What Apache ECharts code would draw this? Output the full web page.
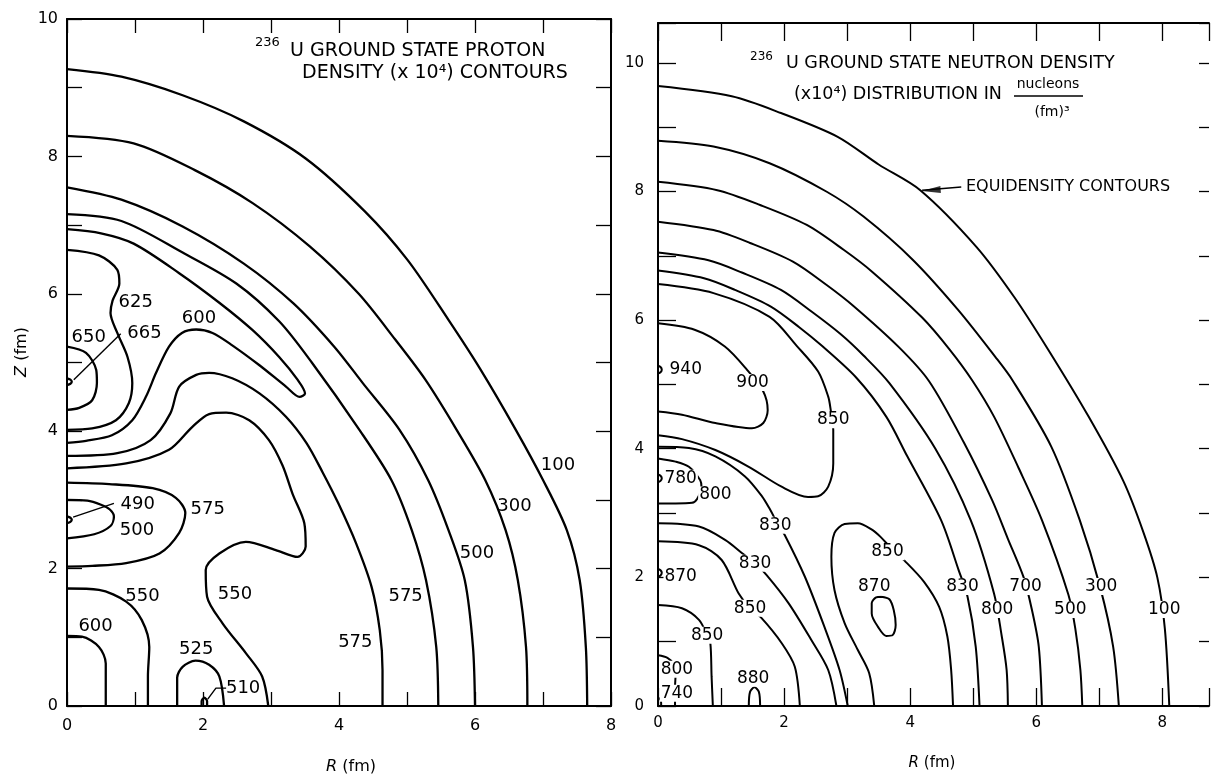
<!DOCTYPE html>
<html><head><meta charset="utf-8">
<script src="https://cdn.jsdelivr.net/npm/echarts@6/dist/echarts.min.js"></script>
<style>html,body{margin:0;padding:0;background:#fff;}#c{width:1212px;height:776px;}</style>
</head><body><div id="c"></div>
<script>
// ---------- LEFT PANEL: proton density contours, points [R, Z] in fm ----------
const pC100 = [[0,9.27],[0.8,9.16],[1.7,8.89],[2.6,8.51],[3.51,7.97],[4.38,7.2],[5.01,6.49],[5.61,5.62],[6.08,4.9],[6.6,4.02],[7.0,3.29],[7.35,2.56],[7.54,1.83],[7.63,0.86],[7.65,0]];
const pC300 = [[0,8.30],[0.98,8.19],[1.88,7.8],[2.73,7.32],[3.57,6.69],[4.29,6.0],[4.83,5.33],[5.27,4.75],[5.73,4.02],[6.15,3.29],[6.45,2.56],[6.63,1.83],[6.75,0.86],[6.77,0]];
const pC500 = [[0,7.55],[0.8,7.37],[1.7,6.98],[2.6,6.44],[3.33,5.86],[3.93,5.23],[4.35,4.7],[4.89,4.02],[5.31,3.29],[5.61,2.56],[5.85,1.83],[5.97,0.86],[6.0,0]];
const pC575a = [[0,7.16],[0.8,7.06],[1.7,6.6],[2.49,6.15],[3.12,5.6],[3.6,5.0],[4.3,4.02],[4.77,3.29],[5.07,2.56],[5.28,1.83],[5.43,0.86],[5.46,0]];
const pC600 = [[0,6.94],[0.5,6.88],[0.98,6.73],[1.65,6.3],[2.24,5.87],[2.73,5.47],[3.12,5.08],[3.39,4.75],[3.5,4.55],[3.42,4.5],[3.22,4.65],[2.83,4.96],[2.43,5.25],[2.14,5.43],[1.9,5.48],[1.69,5.43],[1.5,5.23],[1.31,4.85],[1.16,4.5],[0.96,4.16],[0.66,3.94],[0.28,3.86],[0,3.83]];
const pC575b = [[0,3.64],[0.74,3.68],[1.23,3.87],[1.52,4.26],[1.65,4.65],[1.9,4.82],[2.09,4.85],[2.43,4.77],[2.83,4.55],[3.22,4.21],[3.52,3.83],[3.76,3.4],[3.99,2.95],[4.25,2.37],[4.48,1.73],[4.6,1.1],[4.64,0.52],[4.64,0]];
const pC550s = [[0,3.46],[0.87,3.53],[1.5,3.73],[1.84,4.06],[2.09,4.25],[2.34,4.27],[2.68,4.16],[2.97,3.87],[3.17,3.5],[3.32,3.08],[3.49,2.66],[3.51,2.32],[3.39,2.17],[3.07,2.27],[2.63,2.39],[2.24,2.22],[2.04,1.98],[2.06,1.59],[2.29,1.2],[2.63,0.77],[2.87,0.43],[2.96,0]];
const pLoop575 = [[0,3.25],[0.62,3.23],[1.26,3.17],[1.6,3.03],[1.74,2.81],[1.65,2.52],[1.36,2.22],[0.87,2.08],[0.37,2.04],[0,2.03]];
const pC500in = [[0,3.0],[0.3,2.99],[0.5,2.93],[0.63,2.86],[0.69,2.76],[0.64,2.62],[0.4,2.5],[0,2.44]];
const pC490 = [[0,2.76],[0.05,2.74],[0.07,2.71],[0.05,2.68],[0,2.66]];
const pLead490 = [[0.09,2.75],[0.69,2.95]];
const pC550bl = [[0,1.71],[0.47,1.69],[0.87,1.52],[1.1,1.25],[1.21,0.86],[1.19,0.43],[1.19,0]];
const pC600bl = [[0,1.02],[0.22,1.01],[0.47,0.86],[0.57,0.62],[0.57,0.33],[0.57,0]];
const pC525 = [[1.62,0],[1.62,0.41],[1.7,0.57],[1.89,0.66],[2.09,0.6],[2.24,0.43],[2.31,0]];
const pC510 = [[1.98,0],[1.98,0.07],[2.02,0.12],[2.06,0.07],[2.06,0]];
const pLead510 = [[2.07,0.1],[2.19,0.26],[2.34,0.26]];
const pC650 = [[0,5.23],[0.28,5.14],[0.43,4.89],[0.44,4.7],[0.37,4.45],[0.18,4.34],[0,4.31]];
const pC625 = [[0,6.64],[0.47,6.56],[0.74,6.35],[0.77,6.15],[0.67,5.9],[0.64,5.72],[0.74,5.43],[0.89,5.08],[0.96,4.7],[0.91,4.41],[0.72,4.16],[0.37,4.04],[0,4.02]];
const pC665 = [[0,4.77],[0.05,4.75],[0.07,4.72],[0.05,4.69],[0,4.67]];
const pLead665 = [[0.1,4.75],[0.79,5.42]];
const pLabText = ['625','665','650','600','490','500','575','550','550','600','525','510','575','575','500','300','100'];
const pLabR = [1.01,1.14,0.32,1.94,1.04,1.03,2.07,1.11,2.47,0.42,1.9,2.59,4.24,4.98,6.03,6.58,7.22];
const pLabZ = [5.88,5.42,5.37,5.65,2.94,2.56,2.87,1.59,1.63,1.16,0.82,0.26,0.92,1.59,2.22,2.9,3.51];

// ---------- RIGHT PANEL: neutron density contours ----------
const n100 = [[0,9.64],[1.17,9.48],[1.95,9.22],[2.85,8.85],[3.5,8.42],[4.16,8.02],[5.05,7.14],[5.65,6.36],[6.19,5.54],[6.83,4.5],[7.38,3.5],[7.7,2.7],[7.92,2.0],[8.04,1.2],[8.11,0]];
const n300 = [[0,8.79],[0.88,8.70],[1.77,8.44],[2.67,8.0],[3.26,7.61],[4.04,6.94],[4.76,6.16],[5.35,5.43],[5.62,5.07],[6.24,4.03],[6.69,2.89],[7.01,1.86],[7.22,0.92],[7.31,0]];
const n500 = [[0,8.15],[0.94,8.02],[1.62,7.79],[2.36,7.48],[2.95,7.09],[3.4,6.75],[4.19,6.04],[4.62,5.55],[4.98,5.07],[5.33,4.5],[5.72,3.7],[6.09,2.89],[6.51,1.73],[6.62,1.2],[6.7,0.56],[6.73,0]];
const n700 = [[0,7.53],[0.88,7.40],[1.46,7.2],[2.14,6.91],[2.67,6.55],[3.1,6.22],[3.82,5.58],[4.3,5.05],[4.85,4.1],[5.3,3.2],[5.55,2.6],[5.8,2.0],[5.93,1.5],[6.04,0.92],[6.09,0]];
const n800 = [[0,7.05],[0.80,6.93],[1.33,6.74],[1.95,6.47],[2.44,6.13],[2.9,5.78],[3.26,5.45],[3.67,5.02],[4.4,4.0],[4.96,2.89],[5.33,1.75],[5.45,1.1],[5.53,0.56],[5.55,0]];
const n830 = [[0,6.77],[0.73,6.65],[1.22,6.47],[1.79,6.21],[2.24,5.89],[2.6,5.6],[3.15,5.1],[3.62,4.5],[3.95,3.89],[4.49,2.89],[4.77,2.11],[4.91,1.70],[5.04,0.92],[5.1,0]];
const n850top = [[0,6.56],[0.88,6.42],[1.77,6.05],[2.2,5.6],[2.54,5.2],[2.7,4.81],[2.74,4.6],[2.78,4.29],[2.78,3.77],[2.7,3.41],[2.54,3.26],[2.38,3.25],[1.96,3.41],[1.44,3.72],[0.91,3.98],[0.38,4.15],[0,4.21]];
const n900 = [[0,5.95],[0.58,5.85],[1.06,5.59],[1.41,5.23],[1.67,4.89],[1.74,4.6],[1.67,4.4],[1.49,4.32],[0.91,4.4],[0.38,4.53],[0,4.58]];
const n830up = [[0,4.03],[0.49,4.01],[0.91,3.88],[1.38,3.57],[1.65,3.26],[1.78,3.05],[1.9,2.83],[2.01,2.66],[2.33,2.01],[2.64,1.23],[2.88,0.56],[3.01,0]];
const n800loop = [[0,3.85],[0.28,3.80],[0.49,3.72],[0.67,3.51],[0.69,3.40],[0.62,3.22],[0.54,3.16],[0.28,3.15],[0,3.15]];
const n830low = [[0,2.84],[0.65,2.79],[1.07,2.58],[1.33,2.38],[1.54,2.22],[1.72,2.04],[2.07,1.6],[2.43,1.03],[2.7,0.56],[2.83,0]];
const n850a = [[0,2.56],[0.65,2.5],[1.01,2.27],[1.28,1.75],[1.46,1.52],[1.64,1.37],[1.96,0.98],[2.17,0.61],[2.25,0]];
const n850b = [[0,1.57],[0.38,1.52],[0.65,1.34],[0.78,1.1],[0.83,0.98],[0.85,0.46],[0.87,0]];
const n800b = [[0,0.79],[0.15,0.75],[0.25,0.65],[0.28,0.5],[0.27,0.3],[0.27,0]];
const n880 = [[1.44,0],[1.46,0.22],[1.53,0.29],[1.6,0.22],[1.62,0]];
const n850hill = [[3.43,0],[3.35,0.51],[3.17,0.87],[2.96,1.29],[2.8,1.8],[2.75,2.32],[2.8,2.69],[2.96,2.83],[3.17,2.84],[3.38,2.75],[3.53,2.63],[3.7,2.45],[3.91,2.26],[4.22,1.93],[4.46,1.54],[4.59,1.08],[4.65,0.56],[4.68,0]];
const n870isl = [[3.54,1.70],[3.67,1.66],[3.74,1.49],[3.77,1.26],[3.72,1.10],[3.62,1.09],[3.49,1.23],[3.39,1.44],[3.39,1.60],[3.46,1.69],[3.54,1.70]];
const n940 = [[0,5.29],[0.04,5.27],[0.06,5.23],[0.04,5.19],[0,5.17]];
const n780 = [[0,3.6],[0.04,3.58],[0.06,3.54],[0.04,3.5],[0,3.48]];
const n870 = [[0,2.13],[0.04,2.11],[0.06,2.07],[0.04,2.03],[0,2.01]];
const n740 = [[0,0.13],[0.04,0.1],[0.05,0.04],[0.05,0]];
const nArrow = [[4.81,8.07],[4.19,8.02]];
const nLabText = ['940','900','850','780','800','830','830','850','870','850','870','850','800','740','880','830','800','700','500','300','100'];
const nLabR = [0.44,1.50,2.78,0.36,0.91,1.86,1.54,3.64,0.36,1.46,3.43,0.78,0.30,0.30,1.51,4.83,5.38,5.83,6.54,7.03,8.03];
const nLabZ = [5.23,5.03,4.45,3.54,3.28,2.81,2.22,2.40,2.01,1.52,1.85,1.10,0.57,0.20,0.43,1.86,1.50,1.86,1.50,1.86,1.50];

// tick labels
const xTickLabels = ['0','2','4','6','8'];
const yTickLabels = ['0','2','4','6','8','10'];

const FONT = '"DejaVu Sans", "Liberation Sans", sans-serif';
const INK = '#000';

function fmt(list) {
  return function (v) {
    const r = Math.round(v);
    if (Math.abs(v - r) > 1e-6) return '';
    return list.indexOf(String(r)) >= 0 ? String(r) : '';
  };
}
function xAx(g, max, pos, tickLen, fs, margin) {
  return {type:'value', gridIndex:g, min:0, max:max, interval:1, position:pos,
    axisLine:{show:true, onZero:false, lineStyle:{color:'#000', width:2}},
    axisTick:{show:true, inside:true, length:tickLen, lineStyle:{color:'#000', width:1.3}},
    axisLabel:{show:pos==='bottom', margin:margin, fontSize:fs, color:INK, fontFamily:FONT, formatter:fmt(xTickLabels)},
    splitLine:{show:false}};
}
function yAx(g, max, pos, tickLen, fs, margin, showLine) {
  return {type:'value', gridIndex:g, min:0, max:max, interval:1, position:pos,
    axisLine:{show:showLine !== false, onZero:false, lineStyle:{color:'#000', width:2}},
    axisTick:{show:true, inside:true, length:tickLen, lineStyle:{color:'#000', width:1.3}},
    axisLabel:{show:pos==='left', margin:margin, fontSize:fs, color:INK, fontFamily:FONT, formatter:fmt(yTickLabels)},
    splitLine:{show:false}};
}
function line(data, xi, yi, w, smooth) {
  return {type:'line', xAxisIndex:xi, yAxisIndex:yi, data:data, smooth:smooth === undefined ? 0.3 : smooth,
    showSymbol:false, symbol:'none', silent:true, lineStyle:{color:'#000', width:w}, z:3};
}
function labels(text, rs, zs, xi, yi, fs, bg) {
  return {type:'scatter', xAxisIndex:xi, yAxisIndex:yi, symbolSize:0, silent:true, z:6,
    itemStyle:{color:'#000'},
    data:text.map((t,i)=>({name:t, value:[rs[i], zs[i]]})),
    label:{show:true, position:'inside', formatter:'{b}', fontSize:fs, fontFamily:FONT, color:'#000',
      textBorderWidth:0, opacity:1,
      backgroundColor: bg ? '#fff' : 'transparent', padding: bg ? [0,1] : 0}};
}

const LW = 2.3, RW = 2.0;
const leftLines = [pC100,pC300,pC500,pC575a,pC600,pC575b,pC550s,pLoop575,pC500in,pC490,pC550bl,pC600bl,pC525,pC510,pC650,pC625,pC665];
const leftLeaders = [pLead490,pLead510,pLead665];
const rightLines = [n100,n300,n500,n700,n800,n830,n850top,n900,n830up,n800loop,n830low,n850a,n850b,n800b,n880,n850hill,n870isl,n940,n780,n870,n740];

const series = [];
leftLines.forEach(d => series.push(line(d, 0, 0, LW)));
leftLeaders.forEach(d => series.push(line(d, 0, 0, 1.4, false)));
rightLines.forEach(d => series.push(line(d, 2, 2, RW)));
series.push(line(nArrow, 2, 2, 1.5, false));
series.push({type:'scatter', xAxisIndex:2, yAxisIndex:2, silent:true, z:7,
  data:[nArrow[1]], symbol:'path://M0,5 L22,0 L22,10 Z', symbolSize:[19,7], symbolKeepAspect:false, symbolOffset:[9,0], symbolRotate:4,
  itemStyle:{color:'#000'}});
series.push(labels(pLabText, pLabR, pLabZ, 0, 0, 18, false));
series.push(labels(nLabText, nLabR, nLabZ, 2, 2, 17, true));

function txt(x, y, text, size, align) {
  return {type:'text', x:x, y:y, silent:true, z:10,
    style:{text:text, fontSize:size, fontFamily:FONT, fill:INK, textAlign:align||'left', textVerticalAlign:'middle'}};
}

const option = {
  animation:false,
  backgroundColor:'#fff',
  grid:[
    {left:67, top:19, width:544, height:687, containLabel:false},
    {left:658, top:23, width:554, height:683, containLabel:false}
  ],
  xAxis:[xAx(0,8,'bottom',14,16,12), xAx(0,8,'top',14,16,8), xAx(1,8.74,'bottom',18,15,10), xAx(1,8.74,'top',18,15,8)],
  yAxis:[yAx(0,10,'left',15,16,9), yAx(0,10,'right',15,16,8), yAx(1,10.62,'left',18,15,14), yAx(1,10.62,'right',10,15,8,false)],
  series:series,
  graphic:[
    txt(255,43,'236',13,'left'),
    txt(290,51,'U GROUND STATE PROTON',19,'left'),
    txt(302,73,'DENSITY (x 10⁴) CONTOURS',19,'left'),
    txt(750,57,'236',12,'left'),
    txt(786,63,'U GROUND STATE NEUTRON DENSITY',17.5,'left'),
    txt(794,94,'(x10⁴) DISTRIBUTION IN',17.5,'left'),
    txt(1048,84,'nucleons',14,'center'),
    {type:'line', silent:true, z:10, shape:{x1:1014,y1:96,x2:1083,y2:96}, style:{stroke:'#000', lineWidth:1.5}},
    txt(1052,112,'(fm)³',14,'center'),
    txt(966,187,'EQUIDENSITY CONTOURS',16,'left'),
    {type:'text', x:22, y:352, rotation:Math.PI/2, silent:true, z:10,
      style:{text:'{i|Z} (fm)', fontSize:16, fontFamily:FONT, fill:INK, textAlign:'center', textVerticalAlign:'middle',
        rich:{i:{fontStyle:'italic', fontSize:16, fontFamily:FONT, fill:INK}}}},
    {type:'text', x:351, y:767, silent:true, z:10,
      style:{text:'{i|R} (fm)', fontSize:16, fontFamily:FONT, fill:INK, textAlign:'center', textVerticalAlign:'middle',
        rich:{i:{fontStyle:'italic', fontSize:16, fontFamily:FONT, fill:INK}}}},
    {type:'text', x:932, y:763, silent:true, z:10,
      style:{text:'{i|R} (fm)', fontSize:15, fontFamily:FONT, fill:INK, textAlign:'center', textVerticalAlign:'middle',
        rich:{i:{fontStyle:'italic', fontSize:15, fontFamily:FONT, fill:INK}}}}
  ]
};
const chart = echarts.init(document.getElementById('c'), null, {renderer:'canvas'});
chart.setOption(option);
</script></body></html>
